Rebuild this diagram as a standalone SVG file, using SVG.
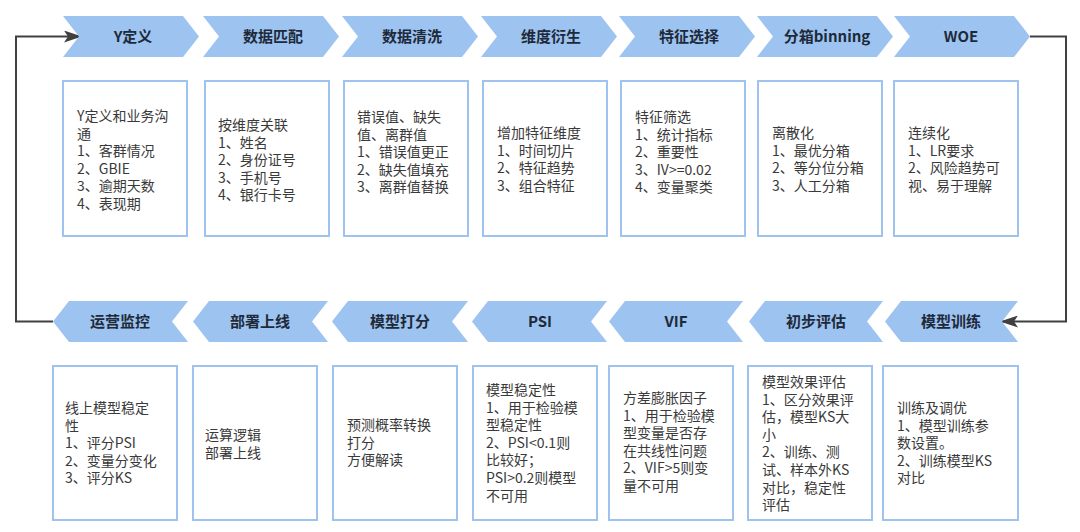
<svg xmlns="http://www.w3.org/2000/svg" width="1080" height="532" viewBox="0 0 1080 532">
<style>
.chev{fill:#9DC3F0;}
.box{fill:#FFFFFF;stroke:#9DC3EE;stroke-width:2;}
.lbl{font-family:"Noto Sans CJK SC","Noto Sans",sans-serif;font-size:15px;font-weight:bold;fill:#1E2A3A;text-anchor:middle;}
.txt{font-family:"Noto Sans CJK SC","Noto Sans",sans-serif;font-size:14px;fill:#3A3A3A;}
.conn{fill:none;stroke:#404040;stroke-width:2;}
</style>
<defs>
<marker id="arr" viewBox="0 0 18 12" refX="17" refY="6" markerWidth="18" markerHeight="12" markerUnits="userSpaceOnUse" orient="auto">
<path d="M18,6 L0,0 L4,6 L0,12 Z" fill="#404040"/>
</marker>
</defs>
<rect width="1080" height="532" fill="#FFFFFF"/>

<g id="connectors">
<path class="conn" d="M53,321.5 H16 V36.5 H81" marker-end="url(#arr)"/>
<path class="conn" d="M1030,36.5 H1066 V321.5 H1001" marker-end="url(#arr)"/>
</g>

<g id="n-ydef">
<polygon class="chev" points="63,16 183,16 199,36.5 183,57 63,57 79,36.5"/>
<text class="lbl" x="133" y="42">Y定义</text>
<rect class="box" x="63" y="81" width="124" height="155"/>
<text class="txt" x="77" y="121"><tspan x="77">Y定义和业务沟</tspan><tspan x="77" dy="17.6">通</tspan><tspan x="77" dy="17.6">1、客群情况</tspan><tspan x="77" dy="17.6">2、GBIE</tspan><tspan x="77" dy="17.6">3、逾期天数</tspan><tspan x="77" dy="17.6">4、表现期</tspan></text>
</g>

<g id="n-match">
<polygon class="chev" points="203,16 323,16 339,36.5 323,57 203,57 219,36.5"/>
<text class="lbl" x="273" y="42">数据匹配</text>
<rect class="box" x="205" y="81" width="124" height="155"/>
<text class="txt" x="218" y="130"><tspan x="218">按维度关联</tspan><tspan x="218" dy="17.6">1、姓名</tspan><tspan x="218" dy="17.6">2、身份证号</tspan><tspan x="218" dy="17.6">3、手机号</tspan><tspan x="218" dy="17.6">4、银行卡号</tspan></text>
</g>

<g id="n-clean">
<polygon class="chev" points="342,16 462,16 478,36.5 462,57 342,57 358,36.5"/>
<text class="lbl" x="412" y="42">数据清洗</text>
<rect class="box" x="344" y="81" width="124" height="155"/>
<text class="txt" x="357" y="122"><tspan x="357">错误值、缺失</tspan><tspan x="357" dy="17.6">值、离群值</tspan><tspan x="357" dy="17.6">1、错误值更正</tspan><tspan x="357" dy="17.6">2、缺失值填充</tspan><tspan x="357" dy="17.6">3、离群值替换</tspan></text>
</g>

<g id="n-derive">
<polygon class="chev" points="481,16 601,16 617,36.5 601,57 481,57 497,36.5"/>
<text class="lbl" x="551" y="42">维度衍生</text>
<rect class="box" x="483" y="81" width="124" height="155"/>
<text class="txt" x="497" y="138"><tspan x="497">增加特征维度</tspan><tspan x="497" dy="17.6">1、时间切片</tspan><tspan x="497" dy="17.6">2、特征趋势</tspan><tspan x="497" dy="17.6">3、组合特征</tspan></text>
</g>

<g id="n-select">
<polygon class="chev" points="619,16 739,16 755,36.5 739,57 619,57 635,36.5"/>
<text class="lbl" x="689" y="42">特征选择</text>
<rect class="box" x="621" y="81" width="124" height="155"/>
<text class="txt" x="635" y="122"><tspan x="635">特征筛选</tspan><tspan x="635" dy="17.6">1、统计指标</tspan><tspan x="635" dy="17.6">2、重要性</tspan><tspan x="635" dy="17.6">3、IV>=0.02</tspan><tspan x="635" dy="17.6">4、变量聚类</tspan></text>
</g>

<g id="n-binning">
<polygon class="chev" points="757,16 877,16 893,36.5 877,57 757,57 773,36.5"/>
<text class="lbl" x="827" y="42">分箱binning</text>
<rect class="box" x="758" y="81" width="124" height="155"/>
<text class="txt" x="772" y="138"><tspan x="772">离散化</tspan><tspan x="772" dy="17.6">1、最优分箱</tspan><tspan x="772" dy="17.6">2、等分位分箱</tspan><tspan x="772" dy="17.6">3、人工分箱</tspan></text>
</g>

<g id="n-woe">
<polygon class="chev" points="894,16 1014,16 1030,36.5 1014,57 894,57 910,36.5"/>
<text class="lbl" x="961" y="42">WOE</text>
<rect class="box" x="894" y="81" width="124" height="155"/>
<text class="txt" x="908" y="138"><tspan x="908">连续化</tspan><tspan x="908" dy="17.6">1、LR要求</tspan><tspan x="908" dy="17.6">2、风险趋势可</tspan><tspan x="908" dy="17.6">视、易于理解</tspan></text>
</g>

<g id="n-train">
<polygon class="chev" points="885,321.5 901,301 1018,301 1002,321.5 1018,342 901,342"/>
<text class="lbl" x="951" y="327">模型训练</text>
<rect class="box" x="883" y="366" width="135" height="154"/>
<text class="txt" x="897" y="413"><tspan x="897">训练及调优</tspan><tspan x="897" dy="17.6">1、模型训练参</tspan><tspan x="897" dy="17.6">数设置。</tspan><tspan x="897" dy="17.6">2、训练模型KS</tspan><tspan x="897" dy="17.6">对比</tspan></text>
</g>

<g id="n-eval">
<polygon class="chev" points="749,321.5 765,301 883,301 867,321.5 883,342 765,342"/>
<text class="lbl" x="816" y="327">初步评估</text>
<rect class="box" x="748" y="366" width="124" height="154"/>
<text class="txt" x="762" y="387"><tspan x="762">模型效果评估</tspan><tspan x="762" dy="17.6">1、区分效果评</tspan><tspan x="762" dy="17.6">估，模型KS大</tspan><tspan x="762" dy="17.6">小</tspan><tspan x="762" dy="17.6">2、训练、测</tspan><tspan x="762" dy="17.6">试、样本外KS</tspan><tspan x="762" dy="17.6">对比，稳定性</tspan><tspan x="762" dy="17.6">评估</tspan></text>
</g>

<g id="n-vif">
<polygon class="chev" points="609,321.5 625,301 743,301 727,321.5 743,342 625,342"/>
<text class="lbl" x="676" y="327">VIF</text>
<rect class="box" x="609" y="366" width="124" height="154"/>
<text class="txt" x="623" y="403"><tspan x="623">方差膨胀因子</tspan><tspan x="623" dy="17.6">1、用于检验模</tspan><tspan x="623" dy="17.6">型变量是否存</tspan><tspan x="623" dy="17.6">在共线性问题</tspan><tspan x="623" dy="17.6">2、VIF>5则变</tspan><tspan x="623" dy="17.6">量不可用</tspan></text>
</g>

<g id="n-psi">
<polygon class="chev" points="472,321.5 488,301 607,301 591,321.5 607,342 488,342"/>
<text class="lbl" x="540" y="327">PSI</text>
<rect class="box" x="473" y="366" width="124" height="154"/>
<text class="txt" x="486" y="395"><tspan x="486">模型稳定性</tspan><tspan x="486" dy="17.6">1、用于检验模</tspan><tspan x="486" dy="17.6">型稳定性</tspan><tspan x="486" dy="17.6">2、PSI&lt;0.1则</tspan><tspan x="486" dy="17.6">比较好；</tspan><tspan x="486" dy="17.6">PSI>0.2则模型</tspan><tspan x="486" dy="17.6">不可用</tspan></text>
</g>

<g id="n-score">
<polygon class="chev" points="332,321.5 348,301 468,301 452,321.5 468,342 348,342"/>
<text class="lbl" x="400" y="327">模型打分</text>
<rect class="box" x="333" y="366" width="124" height="154"/>
<text class="txt" x="347" y="430"><tspan x="347">预测概率转换</tspan><tspan x="347" dy="17.6">打分</tspan><tspan x="347" dy="17.6">方便解读</tspan></text>
</g>

<g id="n-deploy">
<polygon class="chev" points="193,321.5 209,301 328,301 312,321.5 328,342 209,342"/>
<text class="lbl" x="260" y="327">部署上线</text>
<rect class="box" x="193" y="366" width="124" height="154"/>
<text class="txt" x="205" y="440"><tspan x="205">运算逻辑</tspan><tspan x="205" dy="17.6">部署上线</tspan></text>
</g>

<g id="n-monitor">
<polygon class="chev" points="53,321.5 69,301 188,301 172,321.5 188,342 69,342"/>
<text class="lbl" x="120" y="327">运营监控</text>
<rect class="box" x="53" y="366" width="124" height="154"/>
<text class="txt" x="65" y="413"><tspan x="65">线上模型稳定</tspan><tspan x="65" dy="17.6">性</tspan><tspan x="65" dy="17.6">1、评分PSI</tspan><tspan x="65" dy="17.6">2、变量分变化</tspan><tspan x="65" dy="17.6">3、评分KS</tspan></text>
</g>
</svg>
